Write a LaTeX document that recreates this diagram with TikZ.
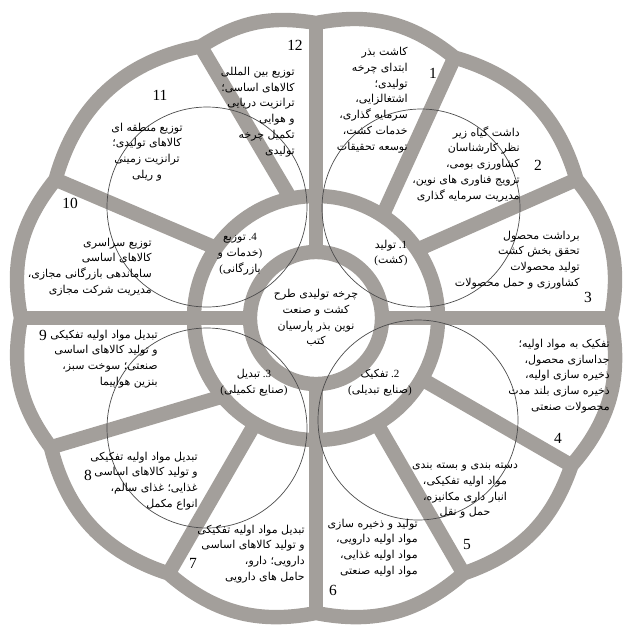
\documentclass[tikz,border=0pt]{standalone}
\usepackage{fontspec}
\setmainfont{Liberation Serif}
\newfontfamily\arabicfont[Script=Arabic]{DejaVu Sans}
\TeXXeTstate=1
\newcommand{\fa}[1]{{\arabicfont\beginR #1\endR}}
\definecolor{wheelgray}{RGB}{163,159,155}

\begin{document}
\begin{tikzpicture}[
  x=0.025cm, y=0.025cm,
  band/.style={draw=wheelgray, line width=3.6mm},
  thinring/.style={draw=black!70, line width=0.5pt},
  petal/.style={font=\fontsize{7.8}{11.2}\selectfont, align=right, inner sep=0pt},
  petalc/.style={petal, align=center},
  stage/.style={petal, align=center},
  num/.style={font=\fontsize{11}{11}\selectfont, inner sep=0pt}
]
  \useasboundingbox (0,0) rectangle (631,-641);

  % wheel
  \coordinate (C) at (316,-318);
  \begin{scope}[shift={(C)}]
    % outer rim, one scallop per sector
    \draw[band, line join=miter] (90:295)
      \foreach \a/\b/\bd in {90/62/25, 62/28/29, 28/0/25, 0/-30/26, -30/-60/26,
                             -60/-90/26, -90/-120/26, -120/-154/29, -154/-180/24,
                             -180/-208/25, -208/-247/32, -247/-270/21}
        { to[bend left=\bd] (\b:295) } -- cycle;
    % spokes (inner angle / outer angle)
    \foreach \ai/\ao in {90/90, 57/62, 34/28, 0/0, -30/-30, -60/-60,
                         -90/-90, -120/-120, -140/-154, 180/180, 145/152, 102/113}
      \draw[band] (\ai:122) -- (\ao:295);
    \foreach \a in {0,90,180,270}
      \draw[band] (\a:66) -- (\a:122);
    \draw[band] (0,0) circle (122);
    \draw[band] (0,0) circle (66);
  \end{scope}

  % stage circles
  \draw[thinring] (421,-208) circle (99);
  \draw[thinring] (418,-420) circle (100);
  \draw[thinring] (207,-428) circle (100);
  \draw[thinring] (207,-207) circle (100);

  % center and stages
  \node[stage] (hub) at (316,-318) {\fa{چرخه تولیدی طرح}\\\fa{کشت و صنعت}\\\fa{نوین بذر پارسیان}\\\fa{کتب}};
  \node[stage] (s1) at (391,-253) {\fa{تولید} .1\\(\fa{کشت})};
  \node[stage] (s2) at (380,-383) {\fa{تفکیک} .2\\(\fa{صنایع تبدیلی})};
  \node[stage] (s3) at (254,-383) {\fa{تبدیل} .3\\(\fa{صنایع تکمیلی})};
  \node[stage] (s4) at (240,-254) {\fa{توزیع} .4\\\fa{خدمات و})\\(\fa{بازرگانی}};

  % petals
  \node[petal, anchor=east] (p1) at (408,-100) {\fa{کاشت بذر}\\\fa{ابتدای چرخه}\\\fa{تولیدی؛}\\\fa{اشتغالزایی،}\\\fa{سرمایه گذاری،}\\\fa{خدمات کشت،}\\\fa{توسعه تحقیقات}};
  \node[petal, anchor=east] (p2) at (520,-164) {\fa{داشت گیاه زیر}\\\fa{نظر کارشناسان}\\\fa{کشاورزی بومی،}\\\fa{ترویج فناوری های نوین،}\\\fa{مدیریت سرمایه گذاری}};
  \node[petal, anchor=east] (p3) at (580,-260) {\fa{برداشت محصول}\\\fa{تحقق بخش کشت}\\\fa{تولید محصولات}\\\fa{کشاورزی و حمل محصولات}};
  \node[petal, anchor=east] (p4) at (610,-376) {\fa{تفکیک به مواد اولیه؛}\\\fa{جداسازی محصول،}\\\fa{ذخیره سازی اولیه،}\\\fa{ذخیره سازی بلند مدت}\\\fa{محصولات صنعتی}};
  \node[petalc] (p5) at (465,-491) {\fa{دسته بندی و بسته بندی}\\\fa{مواد اولیه تفکیکی،}\\\fa{انبار داری مکانیزه،}\\\fa{حمل و نقل}};
  \node[petal, anchor=east] (p6) at (418,-548) {\fa{تولید و ذخیره سازی}\\\fa{مواد اولیه دارویی،}\\\fa{مواد اولیه غذایی،}\\\fa{مواد اولیه صنعتی}};
  \node[petal, anchor=east] (p7) at (305,-554) {\fa{تبدیل مواد اولیه تفکیکی}\\\fa{و تولید کالاهای اساسی}\\\fa{دارویی؛ دارو،}\\\fa{حامل های دارویی}};
  \node[petal, anchor=east] (p8) at (198,-481) {\fa{تبدیل مواد اولیه تفکیکی}\\\fa{و تولید کالاهای اساسی}\\\fa{غذایی؛ غذای سالم،}\\\fa{انواع مکمل}};
  \node[petal, anchor=east] (p9) at (158,-359) {\fa{تبدیل مواد اولیه تفکیکی}\\\fa{و تولید کالاهای اساسی}\\\fa{صنعتی؛ سوخت سبز،}\\\fa{بنزین هواپیما}};
  \node[petal, anchor=east] (p10) at (152,-267) {\fa{توزیع سراسری}\\\fa{کالاهای اساسی}\\\fa{ساماندهی بازرگانی مجازی،}\\\fa{مدیریت شرکت مجازی}};
  \node[petalc] (p11) at (147,-152) {\fa{توزیع منطقه ای}\\\fa{کالاهای تولیدی؛}\\\fa{ترانزیت زمینی}\\\fa{و ریلی}};
  \node[petal, anchor=east] (p12) at (295,-112) {\fa{توزیع بین المللی}\\\fa{کالاهای اساسی؛}\\\fa{ترانزیت دریایی}\\\fa{و هوایی}\\\fa{تکمیل چرخه}\\\fa{تولیدی}};

  % numbers
  \node[num] (n1) at (433,-73) {1};
  \node[num] (n2) at (538,-165) {2};
  \node[num] (n3) at (588,-297) {3};
  \node[num] (n4) at (558,-438) {4};
  \node[num] (n5) at (467,-545) {5};
  \node[num] (n6) at (333,-590) {6};
  \node[num] (n7) at (193,-563) {7};
  \node[num] (n8) at (88,-475) {8};
  \node[num] (n9) at (43,-335) {9};
  \node[num] (n10) at (70,-203) {10};
  \node[num] (n11) at (160,-95) {11};
  \node[num] (n12) at (295,-45) {12};
\end{tikzpicture}
\end{document}
